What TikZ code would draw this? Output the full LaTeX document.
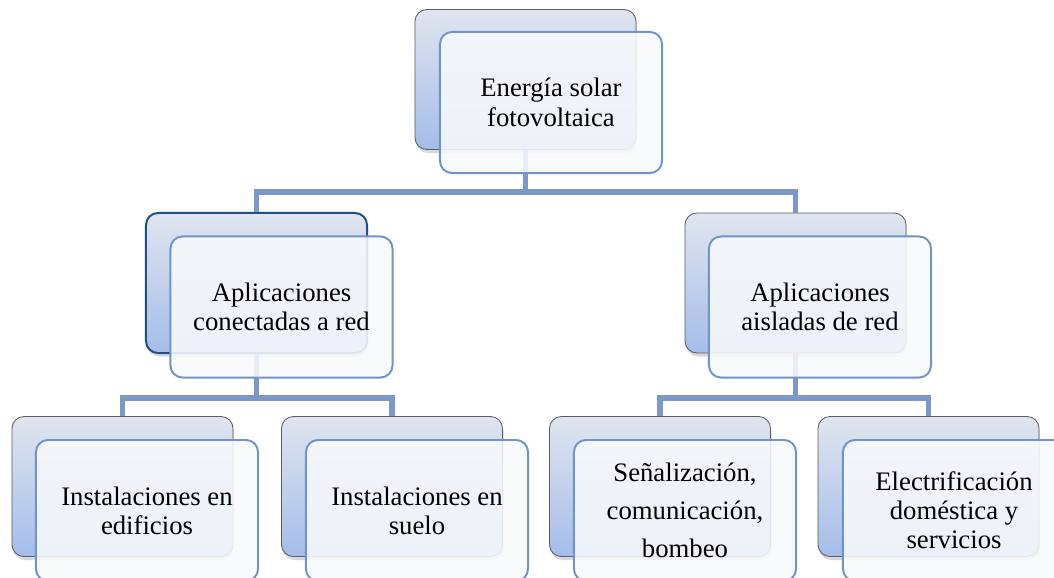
\documentclass[tikz,border=0pt]{standalone}
\usepackage{fontspec}
\setmainfont{Liberation Serif}
\usetikzlibrary{shapes,arrows}
\usetikzlibrary{calc,positioning}
\usetikzlibrary{shadows}

\definecolor{backtop}{RGB}{224,229,239}
\definecolor{backbot}{RGB}{164,189,234}
\definecolor{backline}{RGB}{92,92,98}
\definecolor{selline}{RGB}{30,80,130}
\definecolor{frontline}{RGB}{112,148,200}
\definecolor{frontfill}{RGB}{247,249,252}
\definecolor{conncol}{RGB}{124,152,200}

\begin{document}
\begin{tikzpicture}[x=0.025cm,y=-0.025cm]
    \tikzstyle{back} = [rectangle, rounded corners=0.3cm, minimum width=5.525cm, minimum height=3.5cm, draw=backline, line width=0.6pt, top color=backtop, bottom color=backbot, drop shadow={shadow xshift=0.8pt, shadow yshift=-2.5pt, opacity=0.3}]
    \tikzstyle{front} = [rectangle, rounded corners=0.3cm, minimum width=5.55cm, minimum height=3.525cm, draw=frontline, line width=1.4pt, fill=frontfill, fill opacity=0.88, text opacity=1, align=center, font=\fontsize{19}{20.5}\selectfont]
    \tikzstyle{conn} = [draw=conncol, line width=3.6pt]

    \clip (0,0) rectangle (1054,578);
    \useasboundingbox (0,0) rectangle (1054,578);

    % Back boxes .........................
	\node[back] (topb) at (525.5,79.5) {};
	\node[back, draw=selline, line width=1.4pt] (midlb) at (256.5,283) {};
	\node[back] (midrb) at (795.5,283) {};
	\node[back] (bot1b) at (122.5,486.5) {};
	\node[back] (bot2b) at (392,486.5) {};
	\node[back] (bot3b) at (660,486.5) {};
	\node[back] (bot4b) at (928.5,486.5) {};

    % Connectors .........................
	\coordinate (bus1) at (525.5,192);
	\coordinate (bus2) at (256.5,398);
	\coordinate (bus3) at (795.5,398);
	\draw[conn] (topb.south) -- (bus1);
	\draw[conn] (midlb.north) |- (bus1) -| (midrb.north);
	\draw[conn] (midlb.south) -- (bus2);
	\draw[conn] (bot1b.north) |- (bus2) -| (bot2b.north);
	\draw[conn] (midrb.south) -- (bus3);
	\draw[conn] (bot3b.north) |- (bus3) -| (bot4b.north);

    % Front boxes .........................
	\node[front] (top) at (551,102.5) {Energía solar\\[0.8pt]fotovoltaica};
	\node[front] (midl) at (281.5,307) {Aplicaciones\\conectadas a red};
	\node[front] (midr) at (820,307) {Aplicaciones\\aisladas de red};
	\node[front] (bot1) at (147,510.5) {Instalaciones en\\edificios};
	\node[front] (bot2) at (417,510.5) {Instalaciones en\\suelo};
	\node[front] (bot3) at (685,510.5) {Señalización,\\[6.5pt]comunicación,\\[6.5pt]bombeo};
	\node[front] (bot4) at (954,510.5) {Electrificación\\doméstica y\\servicios};

\end{tikzpicture}
\end{document}
